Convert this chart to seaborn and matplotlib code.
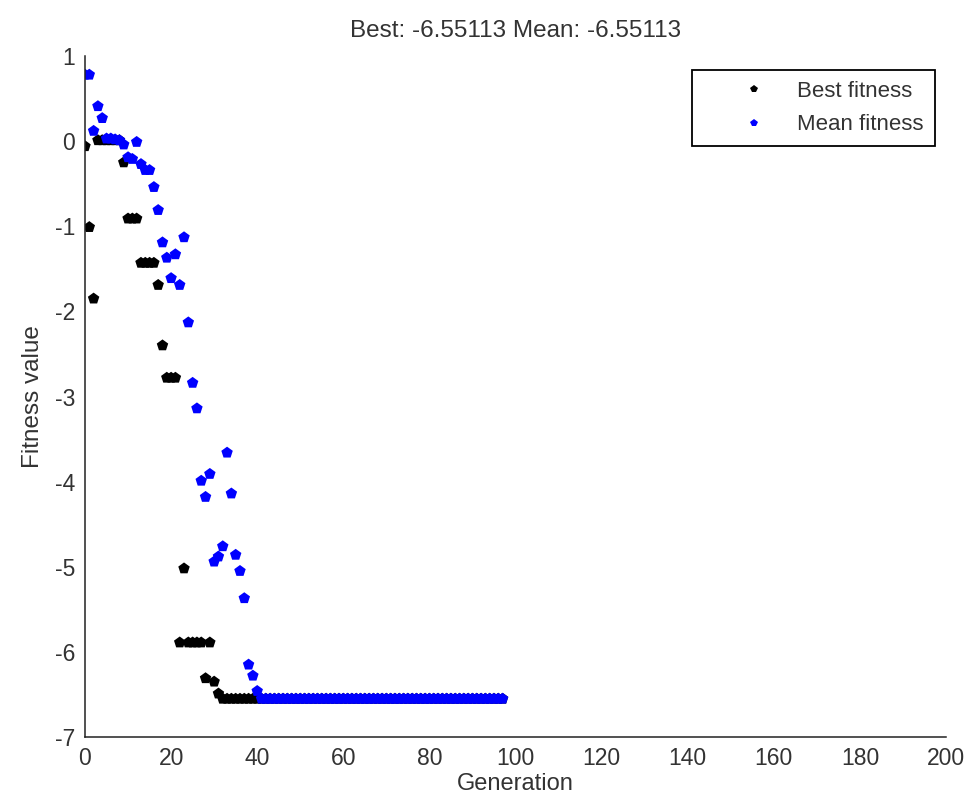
import matplotlib
matplotlib.use("Agg")
import matplotlib.pyplot as plt
import seaborn as sns
import pandas as pd

# Generations 0..97
generations = list(range(98))

best_fitness = [
    -0.06, -1.01, -1.85, 0.01, 0.01, 0.01, 0.01, 0.01, 0.01, -0.25,
    -0.91, -0.91, -0.91, -1.43, -1.43, -1.43, -1.43, -1.69, -2.40, -2.78,
    -2.78, -2.78, -5.89, -5.02, -5.89, -5.89, -5.89, -5.89, -6.31, -5.89,
    -6.35, -6.49, -6.55113, -6.55113, -6.55113, -6.55113, -6.55113, -6.55113, -6.55113, -6.55113,
] + [-6.55113] * 58

mean_fitness = [
    0.78, 0.78, 0.12, 0.41, 0.27, 0.03, 0.03, 0.02, 0.01, -0.04,
    -0.19, -0.21, -0.01, -0.27, -0.34, -0.34, -0.54, -0.81, -1.19, -1.37,
    -1.61, -1.33, -1.69, -1.13, -2.13, -2.84, -3.14, -3.99, -4.18, -3.91,
    -4.94, -4.88, -4.76, -3.66, -4.14, -4.86, -5.05, -5.37, -6.15, -6.28,
    -6.46,
] + [-6.55113] * 57

series_names = ["Best fitness", "Mean fitness"]
series_colors = ["black", "blue"]

df = pd.DataFrame({
    "Generation": generations + generations,
    "Fitness value": best_fitness + mean_fitness,
    "Series": [series_names[0]] * len(generations) + [series_names[1]] * len(generations),
})

sns.set_style("white")
plt.rcParams["font.family"] = ["Liberation Sans", "DejaVu Sans"]
plt.rcParams["axes.unicode_minus"] = False

fig = plt.figure(figsize=(9.7, 8.02), dpi=100)
ax = fig.add_axes([85 / 970, 1 - 737 / 802, (946 - 85) / 970, (737 - 56) / 802])

sns.scatterplot(data=df, x="Generation", y="Fitness value", hue="Series",
                palette=dict(zip(series_names, series_colors)),
                marker="p", s=75, linewidth=0, ax=ax)

ax.set_xlim(0, 200)
ax.set_ylim(-7, 1)
ax.set_xticks(range(0, 201, 20))
ax.set_yticks(range(-7, 2))

for side in ["top", "right"]:
    ax.spines[side].set_visible(False)
for side in ["left", "bottom"]:
    ax.spines[side].set_color("#222222")
    ax.spines[side].set_linewidth(1.1)

ax.tick_params(direction="in", length=7, width=1.1, color="#222222",
               labelsize=16.5, labelcolor="#333333", pad=7)

ax.set_xlabel("Generation", fontsize=17, color="#333333", labelpad=2)
ax.set_ylabel("Fitness value", fontsize=17.5, color="#333333", labelpad=8)
ax.set_title("Best: -6.55113 Mean: -6.55113", fontsize=17.5, color="#333333", pad=14)

leg = ax.legend(loc="upper right", bbox_to_anchor=(935 / 970, 1 - 70 / 802),
                bbox_transform=fig.transFigure, borderaxespad=0,
                fontsize=16, handlelength=4.6, handletextpad=-0.35,
                borderpad=0.5, labelspacing=0.55, fancybox=False,
                framealpha=1, markerscale=0.7)
leg.get_frame().set_edgecolor("black")
leg.get_frame().set_linewidth(1.3)
for t in leg.get_texts():
    t.set_color("#333333")

fig.savefig("out.png", dpi=100)
